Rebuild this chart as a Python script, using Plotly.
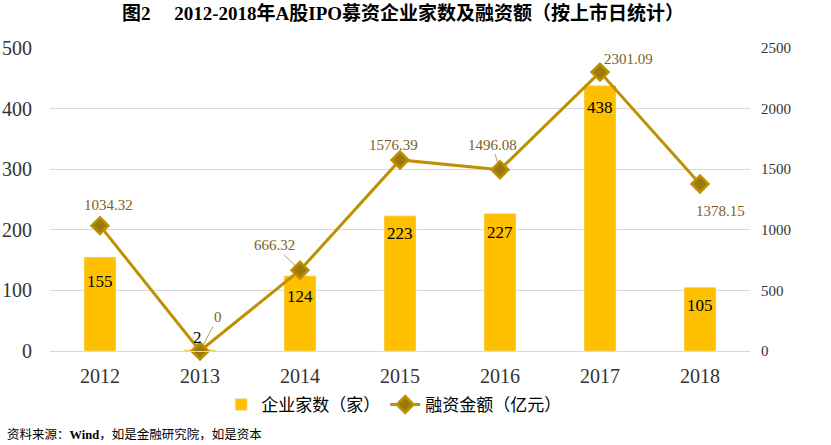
import plotly.graph_objects as go

years = ["2012", "2013", "2014", "2015", "2016", "2017", "2018"]
companies = [155, 2, 124, 223, 227, 438, 105]
amounts = [1034.32, 0, 666.32, 1576.39, 1496.08, 2301.09, 1378.15]
amount_labels = ["1034.32", "0", "666.32", "1576.39", "1496.08", "2301.09", "1378.15"]
bar_labels = ["155", "2", "124", "223", "227", "438", "105"]

# label placement (pixel offsets) — styling only
amt_dx = [8, 18, -26, -7, -8, 28, 20]
amt_dy = [-21, -34, -25, -15, -25, -13, 27]
amt_arrow = [False, True, True, False, True, False, False]
bar_dy = [-24, 12, -21, -18, -19, -22, -18]
bar_dx = [0, -3, 0, 0, 0, 0, 0]

FONT = "Liberation Serif, Noto Sans CJK SC"
GOLD = "#FFC000"
LINE = "#BF9000"
LBL = "#7A6225"

xpos = list(range(len(years)))

fig = go.Figure()
fig.add_trace(go.Bar(
    x=xpos, y=companies, name="企业家数（家）",
    marker=dict(color=GOLD), width=[0.32] * len(years),
))
fig.add_trace(go.Scatter(
    x=xpos, y=amounts, name="融资金额（亿元）", yaxis="y2",
    mode="lines+markers",
    line=dict(color=LINE, width=3),
    marker=dict(symbol="diamond", size=13, color="#9A7A0E", line=dict(color=LINE, width=2.5)),
    cliponaxis=False,
))

for i in range(len(years)):
    fig.add_annotation(x=xpos[i], y=companies[i], text=bar_labels[i], showarrow=False,
                       yshift=bar_dy[i], xshift=bar_dx[i],
                       font=dict(size=17, color="black", family=FONT))
    if amt_arrow[i]:
        fig.add_annotation(x=xpos[i], y=amounts[i], yref="y2", text=amount_labels[i],
                           showarrow=True, arrowhead=0, arrowwidth=0.8, arrowcolor="#A08840",
                           ax=amt_dx[i], ay=amt_dy[i], standoff=6,
                           font=dict(size=15, color=LBL, family=FONT))
    else:
        fig.add_annotation(x=xpos[i], y=amounts[i], yref="y2", text=amount_labels[i],
                           showarrow=False, xshift=amt_dx[i], yshift=-amt_dy[i],
                           font=dict(size=15, color=LBL, family=FONT))

fig.update_layout(
    width=831, height=445,
    margin=dict(l=50, r=81, t=48, b=94),
    paper_bgcolor="white", plot_bgcolor="white",
    font=dict(family=FONT, color="#333333"),
    title=dict(text="<b>图2　 2012-2018年A股IPO募资企业家数及融资额（按上市日统计）</b>",
               x=0.485, xanchor="center", y=0.971, yanchor="middle",
               font=dict(size=19, color="black", family=FONT)),
    xaxis=dict(range=[-0.5, len(years) - 0.5], tickvals=xpos, ticktext=years,
               tickfont=dict(size=20, color="#333333"), showline=True,
               linecolor="#D9D9D9", ticks="", showgrid=False, zeroline=False,
               ticklabelstandoff=7, automargin=False),
    yaxis=dict(range=[0, 500], dtick=100, tickfont=dict(size=20, color="#333333"),
               showgrid=True, gridcolor="#D9D9D9", gridwidth=1, zeroline=False,
               ticks="", ticklabelstandoff=17, automargin=False),
    yaxis2=dict(range=[0, 2500], dtick=500, overlaying="y", side="right",
                tickfont=dict(size=15, color="#333333"), showgrid=False, zeroline=False,
                ticks="", ticklabelstandoff=10, automargin=False),
    legend=dict(orientation="h", x=0.491, xanchor="center", y=-0.178, yanchor="middle",
                font=dict(size=17, color="black", family=FONT),
                traceorder="normal"),
)
fig.add_annotation(text="资料来源：<b>Wind</b>，如是金融研究院，如是资本", xref="paper", yref="paper",
                   x=-0.064, y=-0.274, xanchor="left", yanchor="middle", showarrow=False,
                   font=dict(size=12.5, color="black", family=FONT))

fig.write_html("out.html", config={"displayModeBar": False},
               post_script="document.body.style.margin='0';")
